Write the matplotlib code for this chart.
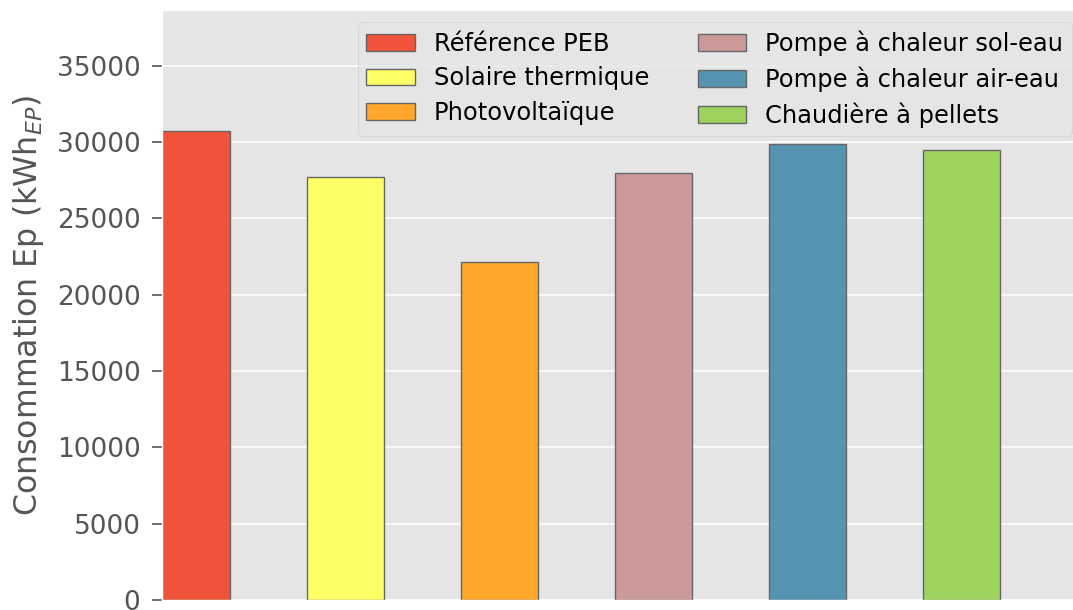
import matplotlib
matplotlib.use("Agg")
import matplotlib.pyplot as plt
import numpy as np

plt.style.use("ggplot")

categories = ["Référence PEB", "Solaire thermique", "Photovoltaïque",
              "Pompe à chaleur sol-eau", "Pompe à chaleur air-eau", "Chaudière à pellets"]
values = [30700, 27700, 22150, 27950, 29900, 29450]
colors = ["#F0533A", "#FFFF66", "#FFA62B", "#CC9999", "#5593B0", "#9DD45E"]
yticks = [0, 5000, 10000, 15000, 20000, 25000, 30000, 35000]

fig = plt.figure(figsize=(10.73, 6.10), dpi=100)
ax = fig.add_axes([162/1073, 10/610, (1084-162)/1073, 590/610])

x = np.arange(len(values))
for i, (v, c, lab) in enumerate(zip(values, colors, categories)):
    ax.bar(x[i], v, width=0.5, color=c, edgecolor="#666666", linewidth=1, label=lab)

ax.set_xlim(-0.19, 5.795)
ax.set_ylim(0, 38650)
ax.set_yticks(yticks)
ax.set_xticks([])
ax.grid(axis="x", visible=False)
ax.grid(axis="y", color="white", linewidth=1.2)
ax.tick_params(axis="y", labelsize=19, colors="#555555", length=7, width=1.2, pad=8.5)
ax.set_ylabel("Consommation Ep (kWh$_{EP}$)", fontsize=22.8, color="#555555", labelpad=8)
ax.legend(loc="upper right", ncol=2, fontsize=17.4, framealpha=0.8,
          borderaxespad=0.5, columnspacing=2.0, labelspacing=0.43, borderpad=0.35)

fig.savefig("out.png", dpi=100)
